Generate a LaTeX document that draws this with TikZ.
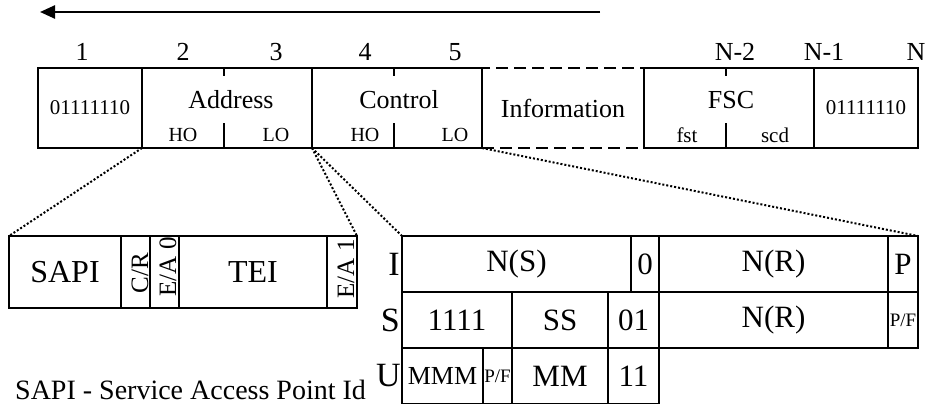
\documentclass[tikz,border=0pt]{standalone}
\usepackage{fontspec}
\setmainfont{Liberation Serif}
\usepackage{tikz}
\usetikzlibrary{arrows.meta}
\newcommand\pxfont[1]{\fontsize{#1}{#1}\selectfont}
\tikzset{
  cell/.style={draw, line width=2.8pt, inner sep=0pt, outer sep=0pt},
  framecell/.style={cell, minimum height=80pt, font=\pxfont{21}},
  addrcell/.style={cell, minimum height=72pt, font=\pxfont{32}},
  ctlcell/.style={cell, minimum height=56pt, font=\pxfont{31}},
  lbl/.style={inner sep=0pt, font=\pxfont{#1}},
  divider/.style={line width=2.8pt, dash pattern=on 8pt off 47pt on 25pt},
  zoomline/.style={line width=2pt, dash pattern=on 2pt off 2pt},
}

\begin{document}
\begin{tikzpicture}[x=1pt, y=-1pt]
\useasboundingbox (0,0) rectangle (927,404);
\coordinate (dirR) at (600,12);
\coordinate (dirL) at (40,12);
\draw[line width=2.4pt, -{Triangle[length=15pt,width=13pt]}] (dirR) -- (dirL);

\foreach \x/\t [count=\i] in {82/1, 183/2, 276/3, 365/4, 455/5, 735/N-2, 824/N-1, 916/N}
  \node[lbl=26] (oct\i) at (\x,52) {\t};

\node[framecell, dash pattern=on 12pt off 6pt, minimum width=162pt, font=\pxfont{26}] (info) at (563,108) {Information};
\node[framecell, minimum width=104pt] (flagA) at (90,108) {01111110};
\node[framecell, minimum width=170pt] (addr) at (227,108) {};
\node[framecell, minimum width=170pt] (ctrl) at (397,108) {};
\node[framecell, minimum width=170pt] (fsc) at (729,108) {};
\node[framecell, minimum width=104pt] (flagB) at (866,108) {01111110};
\foreach \x in {224, 394, 726}
  \draw[divider] (\x,68) -- (\x,148);

\node[lbl=26] (addrT) at (231,100) {Address};
\node[lbl=20] (addrH) at (183,135) {HO};
\node[lbl=20] (addrL) at (276,135) {LO};
\node[lbl=26] (ctrlT) at (399,100) {Control};
\node[lbl=20] (ctrlH) at (365,135) {HO};
\node[lbl=20] (ctrlL) at (455,135) {LO};
\node[lbl=26] (fscT) at (731,100) {FSC};
\node[lbl=21] (fscF) at (687,135) {fst};
\node[lbl=21] (fscS) at (775,135) {scd};

\node[addrcell, minimum width=112pt] (sapi) at (65,272) {SAPI};
\node[addrcell, minimum width=29pt] (cr) at (135.5,272) {};
\node[addrcell, minimum width=29pt] (ea0) at (164.5,272) {};
\node[addrcell, minimum width=148pt] (tei) at (253,272) {TEI};
\node[addrcell, minimum width=30pt] (ea1) at (342,272) {};
\node[lbl=25, rotate=90] (crT) at (140,273) {C/R};
\node[lbl=25, rotate=90] (ea0T) at (168,267) {E/A 0};
\node[lbl=25, rotate=90] (ea1T) at (346,269) {E/A 1};

\node[ctlcell, minimum width=229pt] (ns) at (516.5,264) {N(S)};
\node[ctlcell, minimum width=28pt] (zeroI) at (645,264) {0};
\node[ctlcell, minimum width=229pt] (nrI) at (773.5,264) {N(R)};
\node[ctlcell, minimum width=30pt] (pI) at (903,264) {P};
\node[ctlcell, minimum width=110pt] (ones) at (457,320) {1111};
\node[ctlcell, minimum width=96pt] (ss) at (560,320) {SS};
\node[ctlcell, minimum width=51pt] (bitsS) at (633.5,320) {01};
\node[ctlcell, minimum width=229pt] (nrS) at (773.5,320) {N(R)};
\node[ctlcell, minimum width=30pt, font=\pxfont{19}] (pfS) at (903,320) {P/F};
\node[ctlcell, minimum width=81pt, font=\pxfont{26}] (mmm) at (442.5,376) {MMM};
\node[ctlcell, minimum width=29pt, font=\pxfont{19}] (pfU) at (497.5,376) {P/F};
\node[ctlcell, minimum width=96pt] (mm) at (560,376) {MM};
\node[ctlcell, minimum width=51pt] (bitsU) at (633.5,376) {11};
\node[lbl=34, anchor=east] (rowI) at (400,264) {I};
\node[lbl=34, anchor=east] (rowS) at (400,320) {S};
\node[lbl=34, anchor=east] (rowU) at (401,376) {U};

\draw[zoomline] (addr.south west) -- (sapi.north west);
\draw[zoomline] (addr.south east) -- (ea1.north east);
\draw[zoomline] (ctrl.south west) -- (ns.north west);
\draw[zoomline] (ctrl.south east) -- (pI.north east);

\node[lbl=28, anchor=base west] (legend) at (15,399) {SAPI - Service Access Point Id};
\end{tikzpicture}
\end{document}
